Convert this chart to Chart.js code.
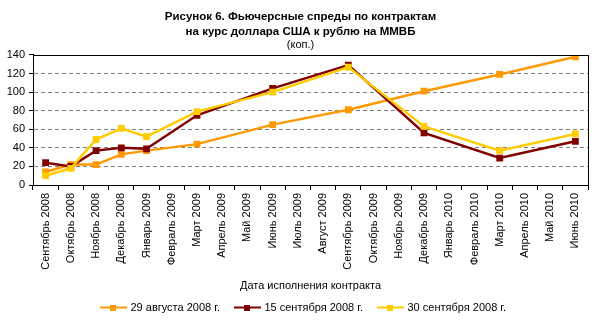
<!DOCTYPE html>
<html lang="ru">
<head>
<meta charset="utf-8">
<title>Фьючерсные спреды</title>
<script src="https://cdn.jsdelivr.net/npm/chart.js@4"></script>
<style>
    html, body { margin: 0; padding: 0; background: #fff; }
    #wrap { width: 601px; height: 325px; position: relative; }
</style>
</head>
<body>
<div id="wrap"><canvas id="spreadChart"></canvas></div>
<script>
const months = ['Сентябрь 2008', 'Октябрь 2008', 'Ноябрь 2008', 'Декабрь 2008', 'Январь 2009',
    'Февраль 2009', 'Март 2009', 'Апрель 2009', 'Май 2009', 'Июнь 2009', 'Июль 2009',
    'Август 2009', 'Сентябрь 2009', 'Октябрь 2009', 'Ноябрь 2009', 'Декабрь 2009',
    'Январь 2010', 'Февраль 2010', 'Март 2010', 'Апрель 2010', 'Май 2010', 'Июнь 2010'];

// спреды, коп. (пустые месяцы - без контрактов)
const aug29 = [14, 22, 22, 33, 37, null, 44, null, null, 65, null, null, 81, null, null, 101, null, null, 119, null, null, 138];
const sep15 = [24, 20, 37, 40, 39, null, 75, null, null, 104, null, null, 129, null, null, 56, null, null, 29, null, null, 47];
const sep30 = [10, 18, 49, 61, 52, null, 79, null, null, 100, null, null, 127, null, null, 63, null, null, 37, null, null, 55];

const yTicks = [0, 20, 40, 60, 80, 100, 120, 140];

const FONT = 'Liberation Sans, Arial, sans-serif';
const PLOT_BOTTOM = 185;
const PAD_BOTTOM = 2;

// значок легенды: линия с квадратным маркером
function legendIcon(color) {
    const c = document.createElement('canvas');
    c.width = 48;
    c.height = 6;
    const g = c.getContext('2d');
    g.fillStyle = color;
    g.fillRect(14, 2, 27, 2);
    g.fillRect(24, 0, 6, 6);
    return c;
}

// рамка области построения
const frame = {
    id: 'frame',
    afterDatasetsDraw(chart) {
        const a = chart.chartArea;
        const c = chart.ctx;
        c.save();
        c.strokeStyle = '#000';
        c.lineWidth = 1;
        c.strokeRect(Math.round(a.left) + 0.5, Math.round(a.top) + 0.5,
            Math.round(a.right - a.left), Math.round(a.bottom - a.top));
        c.restore();
    }
};

document.addEventListener('DOMContentLoaded', function () {
    const ctx = document.getElementById('spreadChart')?.getContext('2d');
    if (!ctx) return;

    Chart.defaults.font.family = FONT;
    Chart.defaults.font.size = 11;
    Chart.defaults.color = '#000';

    const series = [
        { label: '29 августа 2008 г.', data: aug29, color: '#FF9900' },
        { label: '15 сентября 2008 г.', data: sep15, color: '#800000' },
        { label: '30 сентября 2008 г.', data: sep30, color: '#FFCC00' }
    ];

    new Chart(ctx, {
        type: 'line',
        data: {
            labels: months,
            datasets: series.map(function (s, i) {
                return {
                    label: s.label,
                    data: s.data,
                    borderColor: s.color,
                    backgroundColor: s.color,
                    borderWidth: 2.5,
                    pointStyle: 'rect',
                    pointRadius: 4.8,
                    pointBorderWidth: 0,
                    spanGaps: true,
                    tension: 0,
                    order: 3 - i
                };
            })
        },
        options: {
            responsive: true,
            maintainAspectRatio: false,
            animation: false,
            layout: { padding: { left: 0, right: 0, top: 4, bottom: PAD_BOTTOM } },
            plugins: {
                title: {
                    display: true,
                    text: ['Рисунок 6. Фьючерсные спреды по контрактам', 'на курс доллара США к рублю на ММВБ'],
                    font: { size: 11.5, weight: 'bold', lineHeight: 1.25 },
                    padding: { top: 6, bottom: 0 }
                },
                subtitle: {
                    display: true,
                    text: '(коп.)',
                    font: { size: 11 },
                    padding: { top: 0, bottom: 3 }
                },
                legend: {
                    position: 'bottom',
                    labels: {
                        font: { size: 11 },
                        usePointStyle: true,
                        pointStyleWidth: 30,
                        padding: 9,
                        generateLabels: function (chart) {
                            return chart.data.datasets.map(function (d, i) {
                                return {
                                    text: d.label,
                                    pointStyle: legendIcon(d.borderColor),
                                    fillStyle: d.borderColor,
                                    strokeStyle: d.borderColor,
                                    lineWidth: 0,
                                    datasetIndex: i,
                                    hidden: false
                                };
                            });
                        }
                    }
                },
                tooltip: { enabled: false }
            },
            scales: {
                x: {
                    offset: true,
                    afterFit: function (scale) {
                        const legend = scale.chart.legend;
                        scale.height = 325 - PAD_BOTTOM - legend.height - PLOT_BOTTOM;
                    },
                    grid: {
                        offset: true,
                        drawOnChartArea: false,
                        tickLength: 5,
                        tickColor: '#000'
                    },
                    border: { color: '#000' },
                    ticks: {
                        minRotation: 90,
                        maxRotation: 90,
                        autoSkip: false,
                        padding: 3
                    },
                    title: {
                        display: true,
                        text: 'Дата исполнения контракта',
                        padding: { top: 4, bottom: 0 }
                    }
                },
                y: {
                    min: 0,
                    max: 140,
                    afterBuildTicks: function (scale) {
                        scale.ticks = yTicks.map(function (v) { return { value: v }; });
                    },
                    afterFit: function (scale) { scale.width = 33; },
                    grid: {
                        color: function (c) {
                            return (c.tick.value === 0 || c.tick.value === 140) ? 'rgba(0,0,0,0)' : '#808080';
                        },
                        tickColor: '#000',
                        tickLength: 4
                    },
                    border: { color: '#000', dash: [4, 3] },
                    ticks: { padding: 4 }
                },
                // пустая правая ось - только отступ справа от области построения
                yRight: {
                    position: 'right',
                    min: 0,
                    max: 140,
                    afterFit: function (scale) { scale.width = 13; },
                    grid: { display: false },
                    border: { display: false },
                    ticks: { display: false }
                }
            }
        },
        plugins: [frame]
    });
});
</script>
</body>
</html>
